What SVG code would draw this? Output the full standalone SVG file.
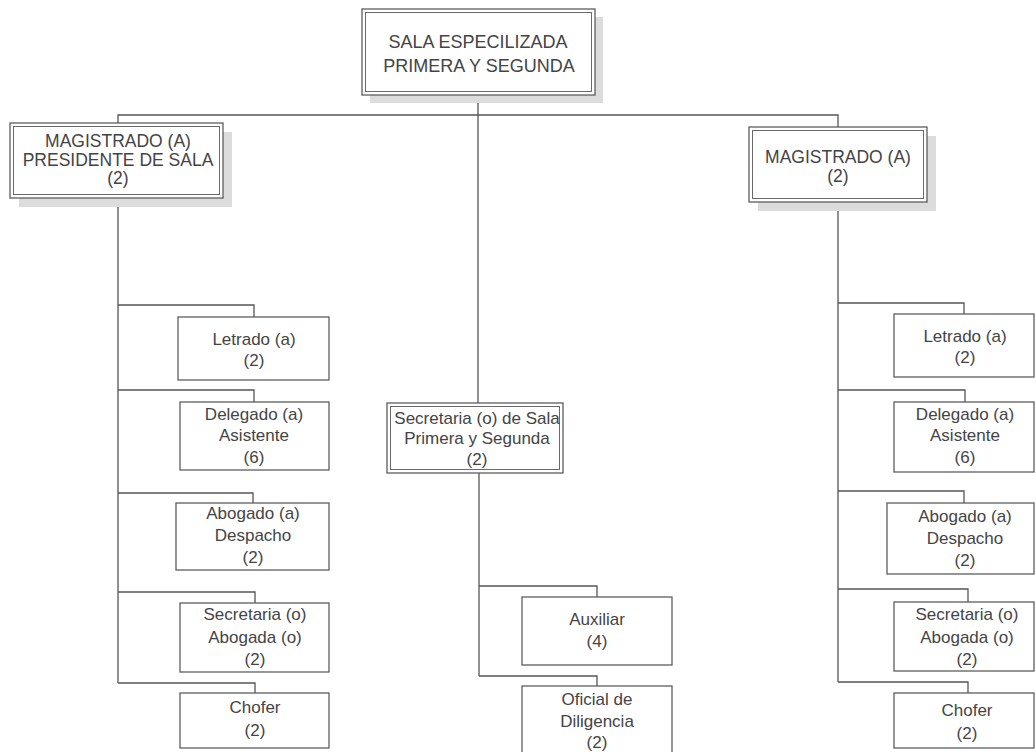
<svg xmlns="http://www.w3.org/2000/svg" width="1036" height="752" viewBox="0 0 1036 752">
<style>
text{font-family:"Liberation Sans",Arial,sans-serif;font-size:17px;fill:#444;text-anchor:middle}
.big{font-size:17.5px}
.top{font-size:18px}
.box{fill:#fff;stroke:#5e5e5e;stroke-width:1.3}
.in{fill:none;stroke:#6a6a6a;stroke-width:1}
.sh{fill:#dcdcdc}
#connectors path{fill:none;stroke:#555;stroke-width:1.3}
</style>
<rect width="1036" height="752" fill="#fff"/>
<g id="connectors">
<path d="M478 95V403"/>
<path d="M118 123V115H838V127"/>
<path d="M118 198V683"/>
<path d="M118 305H254V317"/>
<path d="M118 390H254V402"/>
<path d="M118 493H253V503"/>
<path d="M118 592H255V603"/>
<path d="M118 683H255V693"/>
<path d="M479 473V676"/>
<path d="M479 586H597V597"/>
<path d="M479 676H597V686"/>
<path d="M838 202V682"/>
<path d="M838 303H964V314"/>
<path d="M838 390H965V402"/>
<path d="M838 491H964V503"/>
<path d="M838 589H968V602"/>
<path d="M838 682H968V693"/>
</g>
<g id="n-sala">
<rect class="sh" x="370" y="17" width="233" height="86"/>
<rect class="box" x="362" y="9" width="233" height="86"/>
<rect class="in" x="365.5" y="12.5" width="226" height="79"/>
<text class="top" x="478" y="48">SALA ESPECILIZADA</text>
<text class="top" x="479" y="72">PRIMERA Y SEGUNDA</text>
</g>
<g id="n-mag-pres">
<rect class="sh" x="19" y="132" width="213" height="75"/>
<rect class="box" x="10" y="123" width="213" height="75"/>
<rect class="in" x="13.5" y="126.5" width="206" height="68"/>
<text class="big" x="118" y="147">MAGISTRADO (A)</text>
<text class="big" x="118" y="166">PRESIDENTE DE SALA</text>
<text class="big" x="118" y="184">(2)</text>
</g>
<g id="n-mag">
<rect class="sh" x="758" y="136" width="178" height="75"/>
<rect class="box" x="749" y="127" width="178" height="75"/>
<rect class="in" x="752.5" y="130.5" width="171" height="68"/>
<text class="big" x="838" y="163">MAGISTRADO (A)</text>
<text class="big" x="838" y="182">(2)</text>
</g>
<g id="n-secsala">
<rect class="box" x="387" y="403" width="176" height="70"/>
<rect class="in" x="390.5" y="406.5" width="169" height="63"/>
<text x="477" y="424">Secretaria (o) de Sala</text>
<text x="477" y="444">Primera y Segunda</text>
<text x="477" y="465">(2)</text>
</g>
<g id="n-l-letrado">
<rect class="box" x="178" y="317" width="151" height="63"/>
<text x="254" y="345">Letrado (a)</text>
<text x="254" y="366">(2)</text>
</g>
<g id="n-l-delegado">
<rect class="box" x="180" y="402" width="149" height="68"/>
<text x="254" y="420">Delegado (a)</text>
<text x="254" y="441">Asistente</text>
<text x="254" y="463">(6)</text>
</g>
<g id="n-l-abogado">
<rect class="box" x="176" y="503" width="153" height="67"/>
<text x="253" y="519">Abogado (a)</text>
<text x="253" y="541">Despacho</text>
<text x="253" y="563">(2)</text>
</g>
<g id="n-l-secretaria">
<rect class="box" x="180" y="603" width="149" height="69"/>
<text x="255" y="620">Secretaria (o)</text>
<text x="255" y="643">Abogada (o)</text>
<text x="255" y="665">(2)</text>
</g>
<g id="n-l-chofer">
<rect class="box" x="180" y="693" width="149" height="55"/>
<text x="255" y="713">Chofer</text>
<text x="255" y="736">(2)</text>
</g>
<g id="n-auxiliar">
<rect class="box" x="522" y="597" width="150" height="68"/>
<text x="597" y="625">Auxiliar</text>
<text x="597" y="647">(4)</text>
</g>
<g id="n-oficial">
<rect class="box" x="522" y="686" width="150" height="70"/>
<text x="597" y="705">Oficial de</text>
<text x="597" y="727">Diligencia</text>
<text x="597" y="748">(2)</text>
</g>
<g id="n-r-letrado">
<rect class="box" x="894" y="314" width="140" height="63"/>
<text x="965" y="342">Letrado (a)</text>
<text x="965" y="363">(2)</text>
</g>
<g id="n-r-delegado">
<rect class="box" x="894" y="402" width="140" height="70"/>
<text x="965" y="420">Delegado (a)</text>
<text x="965" y="441">Asistente</text>
<text x="965" y="463">(6)</text>
</g>
<g id="n-r-abogado">
<rect class="box" x="887" y="503" width="147" height="71"/>
<text x="965" y="522">Abogado (a)</text>
<text x="965" y="544">Despacho</text>
<text x="965" y="566">(2)</text>
</g>
<g id="n-r-secretaria">
<rect class="box" x="894" y="602" width="140" height="69"/>
<text x="967" y="620">Secretaria (o)</text>
<text x="967" y="643">Abogada (o)</text>
<text x="967" y="665">(2)</text>
</g>
<g id="n-r-chofer">
<rect class="box" x="894" y="693" width="140" height="55"/>
<text x="967" y="716">Chofer</text>
<text x="967" y="739">(2)</text>
</g>
</svg>
